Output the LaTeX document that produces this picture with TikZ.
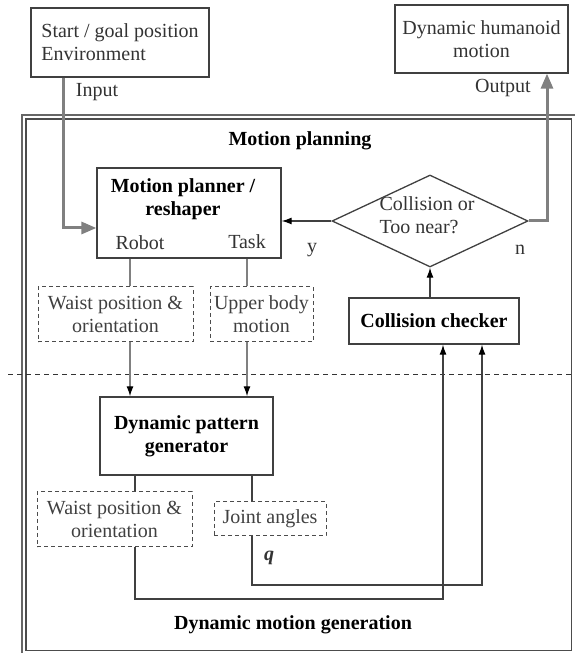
\documentclass[tikz,border=0pt]{standalone}
\usepackage{fontspec}
\setmainfont{Liberation Serif}
\usetikzlibrary{arrows.meta,positioning,shapes.geometric}

\begin{document}
\begin{tikzpicture}[x=1pt, y=1pt,
  font=\fontsize{20}{23}\selectfont,
  box/.style={rectangle, draw=black!75, line width=1.3pt, text=black!80, align=center, inner sep=0pt},
  dbox/.style={rectangle, draw=black!70, dash pattern=on 4pt off 3pt, line width=1pt, text=black!75, align=center, inner sep=0pt},
  lbl/.style={text=black!80, inner sep=0pt},
  bold/.style={font=\fontsize{20}{23}\selectfont\bfseries, text=black},
  thin/.style={-{Latex[length=10pt,width=7pt,color=black]}, line width=1.2pt, draw=black!75},
  gline/.style={line width=1.3pt, draw=black!50},
  garr/.style={gline, -{Latex[length=10pt,width=7pt,color=black]}},
  big/.style={-{Triangle[length=15pt,width=12pt]}, line width=3pt, draw=black!50},
]
\useasboundingbox (0,0) rectangle (575,653);

% frame of the two stages
\draw[black!60, line width=1.2pt] (22,0) -- (22,538) -- (575,538);
\draw[black!70, line width=1.2pt] (26,2.5) rectangle (571.5,534);
\draw[black!80, line width=1pt, dash pattern=on 5pt off 4pt] (8,278) -- (571.5,278);

% outside
\node[box, minimum width=178, minimum height=69, align=left] (start) at (120,610.5) {Start / goal position\\Environment};
\node[box, minimum width=173, minimum height=68] (humanoid) at (481.5,614) {Dynamic humanoid\\motion};
\node[lbl] (input) at (97,561) {Input};
\node[lbl] (output) at (503,565) {Output};

% motion planning
\node[bold] (mplan) at (300,512) {Motion planning};
\node[box, minimum width=184, minimum height=90] (planner) at (189,440) {};
\node[bold, align=center, inner sep=0pt] (plannertitle) at (183,453.5) {Motion planner /\\reshaper};
\node[lbl] (robot) at (140,410) {Robot};
\node[lbl] (task) at (247,411) {Task};

\node[diamond, draw=black!75, line width=1.3pt, minimum width=196, minimum height=92, inner sep=0pt] (coll) at (430,432) {};
\node[lbl, align=left] (colltext) at (427,438) {Collision or\\Too near?};
\node[lbl] (yes) at (312,403) {y};
\node[lbl] (no) at (520,403) {n};

\node[box, bold, minimum width=170, minimum height=46] (checker) at (434,332) {Collision checker};

\node[dbox, minimum width=155, minimum height=55] (waistup) at (115.5,338.5) {Waist position \&\\orientation};
\node[dbox, minimum width=103, minimum height=55] (upperbody) at (261.5,338.5) {Upper body\\motion};

% dynamic motion generation
\node[box, bold, minimum width=173, minimum height=78] (dpg) at (186.5,217) {Dynamic pattern\\generator};
\node[dbox, minimum width=155, minimum height=55] (waistdown) at (114.5,133.5) {Waist position \&\\orientation};
\node[dbox, minimum width=112, minimum height=34] (joint) at (270,134) {Joint angles};
\node[lbl] (q) at (269,95) {\textbf{\textit{q}}};
\node[bold] (dmg) at (293,28) {Dynamic motion generation};

\coordinate (inx) at (63,0);
\coordinate (outx) at (547,0);
\coordinate (robotx) at (130,0);
\coordinate (taskx) at (247,0);
\coordinate (wx) at (135,0);
\coordinate (jx) at (252,0);
\coordinate (loopA) at (443,54);
\coordinate (loopB) at (482,68);

\draw[big] (start.south -| inx) |- ([yshift=-15pt]planner.west);
\draw[big] (coll.east) -| (humanoid.south -| outx);
\draw[thin] (coll.west) -- (coll.west -| planner.east);
\draw[thin] (checker.north -| coll.south) -- (coll.south);

\draw[gline] (planner.south -| robotx) -- (waistup.north -| robotx);
\draw[gline] (planner.south -| taskx) -- (upperbody.north -| taskx);
\draw[garr] (waistup.south -| robotx) -- (dpg.north -| robotx);
\draw[garr] (upperbody.south -| taskx) -- (dpg.north -| taskx);

\draw[gline, draw=black!75] (dpg.south -| wx) -- (waistdown.north -| wx);
\draw[gline, draw=black!75] (dpg.south -| jx) -- (joint.north -| jx);
\draw[thin] (waistdown.south -| wx) |- (loopA) -- (checker.south -| loopA);
\draw[thin] (joint.south -| jx) |- (loopB) -- (checker.south -| loopB);

\end{tikzpicture}
\end{document}
